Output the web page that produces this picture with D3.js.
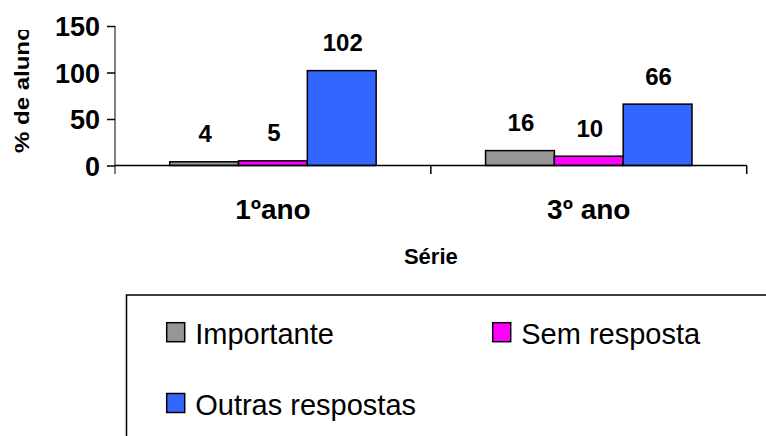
<!DOCTYPE html>
<html>
<head>
<meta charset="utf-8">
<script src="https://cdn.jsdelivr.net/npm/d3@7"></script>
<style>
  body { margin: 0; background: #fff; }
  text { font-family: "Liberation Sans", Arial, sans-serif; }
</style>
</head>
<body>
<div id="chart"></div>
<script>
var categories = ['1ºano', '3º ano']
var seriesNames = ['Importante', 'Sem resposta', 'Outras respostas']
var seriesColors = ['#969696', '#ff00ff', '#3366ff']
var importante = [4, 16]
var semResposta = [5, 10]
var outras = [102, 66]
var yTicks = [0, 50, 100, 150]

var w = 766
var h = 436
var values = [importante, semResposta, outras]

var svg = d3.select('#chart').append('svg')
    .attr('width', w)
    .attr('height', h)

var x0 = d3.scaleBand().domain(categories).range([115, 746.7])
var x1 = d3.scaleBand().domain(seriesNames).range([0, x0.bandwidth()]).paddingOuter(0.795)
var y = d3.scaleLinear().domain([0, 150]).range([165.5, 26])

// bars, one group per category
var rows = []
categories.forEach(function (c, i) {
  seriesNames.forEach(function (s, j) {
    rows.push({cat: c, name: s, v: values[j][i], color: seriesColors[j]})
  })
})

svg.selectAll('rect.bar').data(rows).enter().append('rect')
    .attr('class', 'bar')
    .attr('x', function (d) { return x0(d.cat) + x1(d.name) })
    .attr('y', function (d) { return y(d.v) })
    .attr('width', x1.bandwidth())
    .attr('height', function (d) { return y(0) - y(d.v) })
    .style('fill', function (d) { return d.color })
    .style('stroke', '#000')
    .style('stroke-width', 1.5)

svg.selectAll('text.val').data(rows).enter().append('text')
    .attr('class', 'val')
    .attr('x', function (d) { return x0(d.cat) + x1(d.name) + x1.bandwidth() / 2 + 1 })
    .attr('y', function (d) { return y(d.v) - 19.5 })
    .attr('text-anchor', 'middle')
    .style('font-size', '24px')
    .style('font-weight', 'bold')
    .text(function (d) { return d.v })

// y axis
var yAxis = svg.append('g')
    .attr('transform', 'translate(115,0)')
    .call(d3.axisLeft(y).tickValues(yTicks).tickSize(8).tickPadding(7))
yAxis.select('.domain').attr('d', 'M0,' + y(150) + 'V174')
yAxis.selectAll('line').attr('stroke-width', 1.5)
yAxis.selectAll('text')
    .style('font-family', '"Liberation Sans", Arial, sans-serif')
    .style('font-size', '27px')
    .style('font-weight', 'bold')
    .attr('dy', '0.36em')
    .attr('fill', '#000')

// x axis
svg.append('line')
    .attr('x1', x0.range()[0]).attr('x2', x0.range()[1])
    .attr('y1', y(0)).attr('y2', y(0))
    .style('stroke', '#000').style('stroke-width', 1.5)
var edges = categories.map(function (c) { return x0(c) }).concat([x0.range()[1]])
svg.selectAll('line.xt').data(edges.slice(1)).enter().append('line')
    .attr('class', 'xt')
    .attr('x1', function (d) { return d }).attr('x2', function (d) { return d })
    .attr('y1', y(0)).attr('y2', 174)
    .style('stroke', '#000').style('stroke-width', 1.5)

svg.selectAll('text.cat').data(categories).enter().append('text')
    .attr('class', 'cat')
    .attr('x', function (d) { return x0(d) + x0.bandwidth() / 2 })
    .attr('y', 218.5)
    .attr('text-anchor', 'middle')
    .style('font-size', '28px')
    .style('font-weight', 'bold')
    .text(function (d) { return d })

svg.append('text')
    .attr('x', (x0.range()[0] + x0.range()[1]) / 2)
    .attr('y', 263.5)
    .attr('text-anchor', 'middle')
    .style('font-size', '22px')
    .style('font-weight', 'bold')
    .text('Série')

// y title, cut off at the top like the original
svg.append('clipPath').attr('id', 'ytclip')
  .append('rect').attr('x', 0).attr('y', 30).attr('width', 60).attr('height', 200)
svg.append('g').attr('clip-path', 'url(#ytclip)')
  .append('text')
    .attr('transform', 'translate(28.5,153) rotate(-90) scale(1,0.88)')
    .style('font-size', '24px')
    .style('font-weight', 'bold')
    .text('% de alunos')

// legend box runs off the right and bottom edges
svg.append('rect')
    .attr('x', 126.5).attr('y', 295)
    .attr('width', 700).attr('height', 200)
    .style('fill', 'none').style('stroke', '#000').style('stroke-width', 1.5)

var legPos = [[166.7, 322.7], [492.7, 322.7], [166.7, 393.5]]
var leg = svg.selectAll('g.leg').data(seriesNames).enter().append('g')
    .attr('class', 'leg')
    .attr('transform', function (d, i) { return 'translate(' + legPos[i][0] + ',' + legPos[i][1] + ')' })
leg.append('rect')
    .attr('width', 18).attr('height', 19)
    .style('fill', function (d, i) { return seriesColors[i] })
    .style('stroke', '#000').style('stroke-width', 1.5)
leg.append('text')
    .attr('x', 28.5).attr('y', 21.5)
    .style('font-size', '29px')
    .text(function (d) { return d })
</script>
</body>
</html>
